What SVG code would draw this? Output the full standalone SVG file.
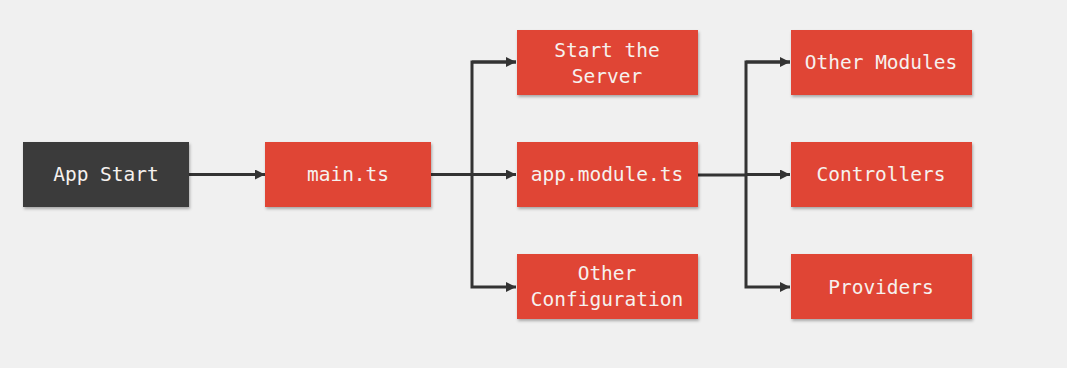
<svg xmlns="http://www.w3.org/2000/svg" width="1067" height="368" viewBox="0 0 1067 368">
  <defs>
    <marker id="arrow" viewBox="0 0 10 10" refX="10" refY="5" markerWidth="10" markerHeight="10" markerUnits="userSpaceOnUse" orient="auto">
      <path d="M0,0 L10,5 L0,10 z" fill="#333333"/>
    </marker>
    <filter id="shadow" x="-10%" y="-10%" width="130%" height="140%">
      <feDropShadow dx="1" dy="2" stdDeviation="1.5" flood-color="#000000" flood-opacity="0.3"/>
    </filter>
  </defs>
  <style>
    .box { fill: #e04536; filter: url(#shadow); }
    .dark { fill: #3a3a3a; filter: url(#shadow); }
    .label { font-family: "DejaVu Sans Mono", "Liberation Mono", monospace; font-size: 19.5px; fill: #f6f1ee; text-anchor: middle; }
    .wire { fill: none; stroke: #333333; stroke-width: 3; stroke-linejoin: miter; }
    .arrow { marker-end: url(#arrow); }
  </style>
  <rect width="1067" height="368" fill="#f0f0f0"/>

  <!-- arrows between the stages -->
  <g id="connectors">
    <path class="wire arrow" d="M189,174.5 H265"/>
    <path class="wire" d="M431,174.5 H472"/>
    <path class="wire arrow" d="M516,62 H472 V287 H516"/>
    <path class="wire arrow" d="M472,62 H516"/>
    <path class="wire arrow" d="M472,174.5 H516"/>
    <path class="wire" d="M698,175 H746"/>
    <path class="wire arrow" d="M790,62 H746 V287 H790"/>
    <path class="wire arrow" d="M746,62 H790"/>
    <path class="wire arrow" d="M746,174.5 H790"/>
  </g>

  <g id="app-start">
    <rect class="dark" x="23" y="142" width="166" height="65"/>
    <text class="label" x="106" y="181">App Start</text>
  </g>
  <g id="main-ts">
    <rect class="box" x="265" y="142" width="166" height="65"/>
    <text class="label" x="348" y="181">main.ts</text>
  </g>
  <g id="start-server">
    <rect class="box" x="517" y="30" width="181" height="65"/>
    <text class="label" x="607" y="57">Start the</text>
    <text class="label" x="607" y="83">Server</text>
  </g>
  <g id="app-module">
    <rect class="box" x="517" y="142" width="181" height="65"/>
    <text class="label" x="607" y="181">app.module.ts</text>
  </g>
  <g id="other-configuration">
    <rect class="box" x="517" y="254" width="181" height="65"/>
    <text class="label" x="607" y="280">Other</text>
    <text class="label" x="607" y="306">Configuration</text>
  </g>
  <g id="other-modules">
    <rect class="box" x="791" y="30" width="181" height="65"/>
    <text class="label" x="881" y="69">Other Modules</text>
  </g>
  <g id="controllers">
    <rect class="box" x="791" y="142" width="181" height="65"/>
    <text class="label" x="881" y="181">Controllers</text>
  </g>
  <g id="providers">
    <rect class="box" x="791" y="254" width="181" height="65"/>
    <text class="label" x="881" y="294">Providers</text>
  </g>
</svg>
